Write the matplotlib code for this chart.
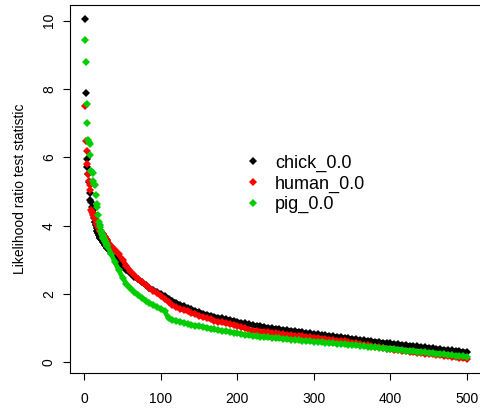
import matplotlib
matplotlib.use("Agg")
import matplotlib.pyplot as plt

plt.rcParams['font.family'] = ['Liberation Sans', 'DejaVu Sans']

# index of each statistic (sorted, largest first)
head_idx = list(range(1, 31))
tail_idx = list(range(35, 501, 5))

chick_head = [10.05, 7.89, 5.95, 5.72, 5.50, 5.28, 4.95, 4.76, 4.68, 4.55,
              4.46, 4.36, 4.22, 4.11, 4.02, 3.94, 3.86, 3.78, 3.72, 3.67,
              3.63, 3.60, 3.57, 3.54, 3.51, 3.48, 3.45, 3.42, 3.39, 3.36]
chick_tail = [3.21, 3.07, 2.94, 2.82, 2.71, 2.61, 2.51, 2.43, 2.34, 2.26,
              2.19, 2.12, 2.06, 2.00, 1.93, 1.86, 1.80, 1.75, 1.69, 1.64,
              1.59, 1.55, 1.51, 1.47, 1.43, 1.40, 1.37, 1.34, 1.31, 1.29,
              1.26, 1.24, 1.22, 1.19, 1.16, 1.14, 1.11, 1.09, 1.07, 1.06,
              1.04, 1.02, 1.00, 0.99, 0.97, 0.96, 0.94, 0.93, 0.91, 0.90,
              0.88, 0.86, 0.85, 0.83, 0.82, 0.80, 0.79, 0.78, 0.76, 0.75,
              0.74, 0.72, 0.71, 0.69, 0.68, 0.66, 0.65, 0.64, 0.62, 0.61,
              0.60, 0.58, 0.57, 0.56, 0.54, 0.53, 0.52, 0.50, 0.49, 0.48,
              0.47, 0.45, 0.44, 0.43, 0.42, 0.40, 0.39, 0.37, 0.36, 0.35,
              0.34, 0.33, 0.31, 0.30]

human_head = [7.49, 6.48, 6.20, 5.81, 5.50, 5.30, 5.20, 5.05, 4.45, 4.40,
              4.36, 4.32, 4.27, 4.22, 4.16, 4.10, 4.04, 3.98, 3.93, 3.88,
              3.85, 3.82, 3.78, 3.75, 3.72, 3.69, 3.66, 3.62, 3.59, 3.56]
human_tail = [3.42, 3.30, 3.16, 3.00, 2.83, 2.68, 2.55, 2.44, 2.36, 2.27,
              2.18, 2.10, 2.03, 1.95, 1.86, 1.76, 1.67, 1.62, 1.57, 1.53,
              1.49, 1.45, 1.41, 1.37, 1.33, 1.29, 1.26, 1.22, 1.19, 1.17,
              1.14, 1.12, 1.10, 1.07, 1.04, 1.00, 0.96, 0.93, 0.92, 0.90,
              0.89, 0.88, 0.86, 0.85, 0.84, 0.83, 0.81, 0.80, 0.78, 0.77,
              0.76, 0.74, 0.73, 0.72, 0.71, 0.69, 0.68, 0.67, 0.66, 0.64,
              0.63, 0.62, 0.60, 0.58, 0.56, 0.54, 0.52, 0.50, 0.48, 0.46,
              0.44, 0.42, 0.40, 0.38, 0.36, 0.35, 0.33, 0.32, 0.31, 0.29,
              0.28, 0.27, 0.26, 0.25, 0.24, 0.22, 0.21, 0.19, 0.18, 0.16,
              0.15, 0.13, 0.12, 0.10]

pig_head = [9.44, 8.78, 7.56, 7.02, 6.51, 6.45, 6.40, 6.07, 5.61, 5.58,
            5.55, 5.30, 5.22, 5.19, 4.90, 4.65, 4.55, 4.30, 4.10, 4.02,
            3.95, 3.85, 3.77, 3.70, 3.65, 3.60, 3.55, 3.50, 3.45, 3.41]
pig_tail = [3.18, 2.93, 2.70, 2.48, 2.30, 2.17, 2.07, 1.98, 1.89, 1.81,
            1.74, 1.68, 1.62, 1.56, 1.50, 1.29, 1.25, 1.22, 1.19, 1.16,
            1.13, 1.10, 1.08, 1.06, 1.04, 1.02, 0.99, 0.97, 0.94, 0.92,
            0.91, 0.89, 0.87, 0.85, 0.83, 0.81, 0.79, 0.77, 0.76, 0.75,
            0.74, 0.73, 0.72, 0.71, 0.70, 0.69, 0.68, 0.67, 0.66, 0.65,
            0.64, 0.63, 0.62, 0.61, 0.60, 0.59, 0.58, 0.57, 0.56, 0.55,
            0.54, 0.53, 0.52, 0.51, 0.50, 0.49, 0.48, 0.46, 0.45, 0.44,
            0.43, 0.41, 0.40, 0.39, 0.38, 0.37, 0.35, 0.34, 0.33, 0.32,
            0.31, 0.30, 0.29, 0.28, 0.27, 0.26, 0.25, 0.24, 0.23, 0.21,
            0.20, 0.19, 0.18, 0.17]

labels = ['chick_0.0', 'human_0.0', 'pig_0.0']
colors = ['black', '#FF0000', '#00CD00']

fig = plt.figure(figsize=(4.8, 4.12), dpi=100)
ax = fig.add_axes([69.8 / 480, 39 / 412, 412.5 / 480, 368 / 412])

heads = [chick_head, human_head, pig_head]
tails = [chick_tail, human_tail, pig_tail]
band_start = [13, 13, 21]
handles = []
for yh, yt, c, lab, b in zip(heads, tails, colors, labels, band_start):
    h, = ax.plot(head_idx, yh, linestyle='none', marker='D', markersize=3.6,
                 color=c, markeredgewidth=0, label=lab)
    # 500 overlapping points in the original merge into a solid band
    ax.plot(head_idx[b:] + tail_idx, yh[b:] + yt, linestyle='-', linewidth=3.4,
            marker='D', markersize=4.4, markeredgewidth=0, color=c,
            solid_capstyle='round', solid_joinstyle='round')
    handles.append(h)

ax.set_xlim(-18.96, 519.96)
ax.set_ylim(-0.31, 10.46)
ax.set_xticks([0, 100, 200, 300, 400, 500])
ax.set_yticks([0, 2, 4, 6, 8, 10])
ax.tick_params(axis='both', direction='out', length=5, width=0.8, labelsize=10)
ax.tick_params(axis='x', pad=9)
ax.tick_params(axis='y', pad=5)
for t in ax.get_yticklabels():
    t.set_rotation(90)
    t.set_va('center')
for s in ax.spines.values():
    s.set_linewidth(0.8)

ax.set_ylabel('Likelihood ratio test statistic', fontsize=10, labelpad=11)

ax.legend(handles=handles, loc='center left', bbox_to_anchor=(246 / 480, 1 - 184 / 412),
          bbox_transform=fig.transFigure, frameon=False, fontsize=13,
          handlelength=0.8, handletextpad=0.8, labelspacing=0.2,
          borderpad=0, borderaxespad=0, numpoints=1)

fig.savefig('out.png', dpi=100)
